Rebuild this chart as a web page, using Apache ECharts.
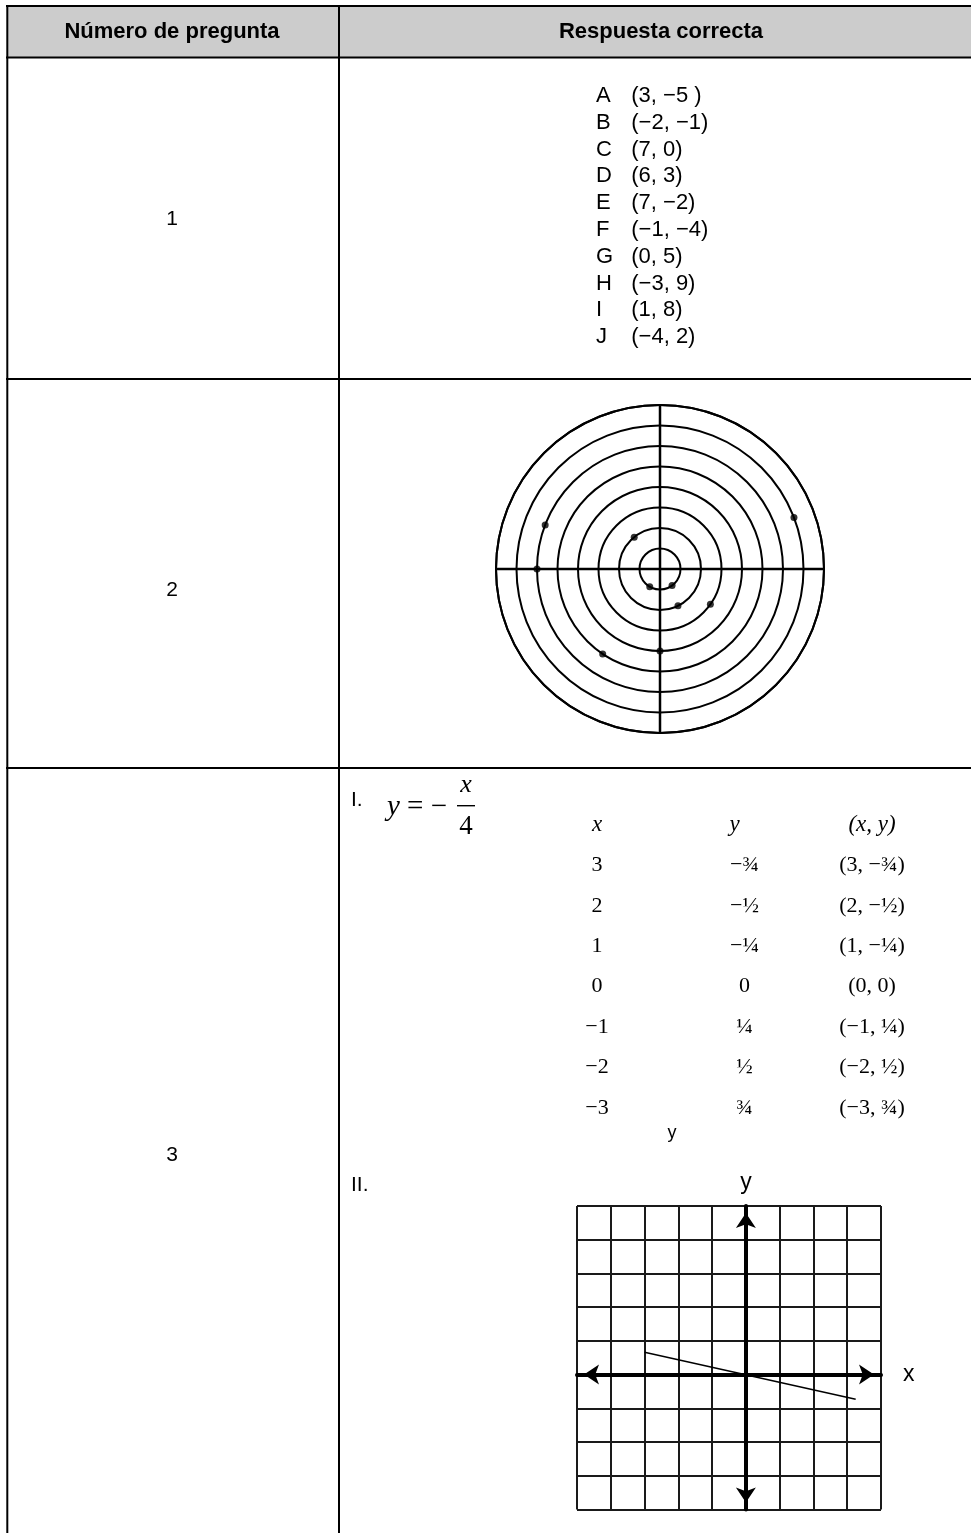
<!DOCTYPE html>
<html>
<head>
<meta charset="utf-8">
<script src="https://cdn.jsdelivr.net/npm/echarts@6/dist/echarts.min.js"></script>
<style>
html, body { margin: 0; padding: 0; background: #fff; }
#chart { width: 971px; height: 1533px; }
</style>
</head>
<body>
<div id="chart"></div>
<script>
// encabezados y número de cada pregunta
const encabezados = ['Número de pregunta', 'Respuesta correcta']
const numerosPregunta = ['1', '2', '3']

// pregunta 1: letras y pares ordenados
const letras = ['A', 'B', 'C', 'D', 'E', 'F', 'G', 'H', 'I', 'J']
const pares = ['(3, −5 )', '(−2, −1)', '(7, 0)', '(6, 3)', '(7, −2)', '(−1, −4)', '(0, 5)', '(−3, 9)', '(1, 8)', '(−4, 2)']

// pregunta 2: puntos sobre los círculos [radio, ángulo en grados]
const radios = [7, 6, 6, 2, 1, 1, 2, 3, 5, 4]
const angulos = [21, 159, 180, 129, 240, 306, 296, 325, 236, 270]

// pregunta 3: tabla de valores de y = -x/4
const columnasTabla = ['x', 'y', '(x, y)']
const valoresX = ['3', '2', '1', '0', '−1', '−2', '−3']
const valoresY = ['−¾', '−½', '−¼', '0', '¼', '½', '¾']
const valoresPar = ['(3, −¾)', '(2, −½)', '(1, −¼)', '(0, 0)', '(−1, ¼)', '(−2, ½)', '(−3, ¾)']

// pregunta 3: recta dibujada en la cuadrícula
const rectaX = [-3, 3.25]
const rectaY = [0.66, -0.73]

const SANS = 'Liberation Sans, Arial, sans-serif'
const SERIF = 'Liberation Serif, Times New Roman, serif'

const chart = echarts.init(document.getElementById('chart'))

const txt = (text, x, y, font, align = 'center', extra = {}) => ({
  type: 'text',
  x, y,
  style: Object.assign({
    text, font, fill: '#000',
    align, textAlign: align,
    verticalAlign: 'middle', textVerticalAlign: 'middle'
  }, extra)
})

const linea = (x1, y1, x2, y2, w = 2) => ({
  type: 'line',
  shape: { x1, y1, x2, y2 },
  style: { stroke: '#000', lineWidth: w }
})

// filas de la tabla de valores
const filas = valoresX.map((_, i) => String(i))

// puntos invisibles que solo llevan el texto
const soloTexto = { symbolSize: 0.5, itemStyle: { color: '#fff', opacity: 1 } }

const labelCelda = (extra = {}) => Object.assign({
  show: true,
  position: 'inside',
  color: '#000',
  opacity: 1,
  fontFamily: SERIF,
  fontSize: 22,
  formatter: p => p.data.texto
}, extra)

const option = {
  animation: false,
  backgroundColor: '#fff',
  graphic: [
    // fondo del encabezado
    { type: 'rect', shape: { x: 7, y: 6, width: 964, height: 51 }, style: { fill: '#cccccc' } },
    linea(6, 6, 971, 6),
    linea(6, 57.5, 971, 57.5),
    linea(6, 379, 971, 379),
    linea(6, 768, 971, 768),
    linea(7.3, 5, 7.3, 1533),
    linea(339, 5, 339, 1533),
    txt(encabezados[0], 172, 32, 'bold 22px ' + SANS),
    txt(encabezados[1], 661, 32, 'bold 22px ' + SANS),
    txt(numerosPregunta[0], 172, 219, '21px ' + SANS),
    txt(numerosPregunta[1], 172, 590, '21px ' + SANS),
    txt(numerosPregunta[2], 172, 1155, '21px ' + SANS),
    // ecuación y = -x/4
    txt('I.', 351, 800, '21px ' + SANS, 'left'),
    {
      type: 'text', x: 387, y: 807,
      style: {
        text: '{i|y} = −', font: '29px ' + SERIF, fill: '#000',
        align: 'left', textAlign: 'left', verticalAlign: 'middle', textVerticalAlign: 'middle',
        rich: { i: { fontStyle: 'italic', fontFamily: SERIF, fontSize: 29 } }
      }
    },
    txt('x', 466, 785, 'italic 26px ' + SERIF),
    { type: 'rect', shape: { x: 457, y: 805, width: 18, height: 1.4 }, style: { fill: '#000' } },
    txt('4', 466, 827, '27px ' + SERIF),
    txt('y', 672, 1133, '18px ' + SANS),
    txt('II.', 351, 1185, '21px ' + SANS, 'left')
  ],
  grid: [
    // lista de pares
    { left: 631, top: 82.6, width: 100, height: 267.8 },
    // tabla de valores
    { left: 528.25, top: 804.8, width: 412.5, height: 323.4 },
    // cuadrícula de la gráfica
    { left: 577, top: 1206, width: 304, height: 303.5 }
  ],
  xAxis: [
    { gridIndex: 0, type: 'value', min: 0, max: 1, show: false },
    { gridIndex: 1, type: 'category', data: columnasTabla, show: false },
    {
      gridIndex: 2, type: 'value', min: -5, max: 4, interval: 1,
      name: 'x', nameLocation: 'end', nameGap: 22,
      nameTextStyle: { fontFamily: SANS, fontSize: 23, color: '#000' },
      axisLine: {
        onZero: true, symbol: ['arrow', 'arrow'], symbolSize: [15, 15], symbolOffset: [7, -7],
        lineStyle: { color: '#000', width: 4 }
      },
      axisTick: { show: false },
      axisLabel: { show: false },
      splitLine: { show: true, lineStyle: { color: '#1a1a1a', width: 2 } }
    }
  ],
  yAxis: [
    {
      gridIndex: 0, type: 'category', data: letras, inverse: true,
      axisLine: { show: false }, axisTick: { show: false },
      axisLabel: { interval: 0, align: 'left', margin: 35, fontFamily: SANS, fontSize: 22, color: '#000' }
    },
    { gridIndex: 1, type: 'category', data: ['h'].concat(filas), inverse: true, show: false },
    {
      gridIndex: 2, type: 'value', min: -4, max: 5, interval: 1,
      name: 'y', nameLocation: 'end', nameGap: 12,
      nameTextStyle: { fontFamily: SANS, fontSize: 23, color: '#000' },
      axisLine: {
        onZero: true, symbol: ['arrow', 'arrow'], symbolSize: [15, 15], symbolOffset: [7, -7],
        lineStyle: { color: '#000', width: 4 }
      },
      axisTick: { show: false },
      axisLabel: { show: false },
      splitLine: { show: true, lineStyle: { color: '#1a1a1a', width: 2 } }
    }
  ],
  polar: { center: [660, 569], radius: 164 },
  angleAxis: {
    type: 'value', min: 0, max: 360, interval: 90, startAngle: 0, clockwise: false,
    axisLine: { lineStyle: { color: '#000', width: 2 } },
    axisTick: { show: false },
    axisLabel: { show: false },
    splitLine: { show: true, lineStyle: { color: '#000', width: 2.5 } }
  },
  radiusAxis: {
    type: 'value', min: 0, max: 8, interval: 1,
    axisLine: { show: false },
    axisTick: { show: false },
    axisLabel: { show: false },
    splitLine: { show: true, lineStyle: { color: '#000', width: 2 } }
  },
  series: [
    Object.assign({
      type: 'scatter', xAxisIndex: 0, yAxisIndex: 0,
      data: pares.map((p, i) => ({ value: [0, i], texto: p })),
      label: {
        show: true, position: 'right', distance: 0, color: '#000', opacity: 1,
        fontFamily: SANS, fontSize: 22, formatter: p => p.data.texto
      }
    }, soloTexto),
    // encabezado de la tabla de valores
    Object.assign({
      type: 'scatter', xAxisIndex: 1, yAxisIndex: 1,
      data: columnasTabla.map((c, j) => ({ value: [j, 0], texto: c })),
      label: labelCelda({ fontStyle: 'italic', fontSize: 23 })
    }, soloTexto),
    Object.assign({
      type: 'scatter', xAxisIndex: 1, yAxisIndex: 1,
      data: valoresX.map((v, i) => ({ value: [0, i + 1], texto: v })),
      label: labelCelda()
    }, soloTexto),
    Object.assign({
      type: 'scatter', xAxisIndex: 1, yAxisIndex: 1,
      data: valoresY.map((v, i) => ({ value: [1, i + 1], texto: v })),
      label: labelCelda({ offset: [10, 0] })
    }, soloTexto),
    Object.assign({
      type: 'scatter', xAxisIndex: 1, yAxisIndex: 1,
      data: valoresPar.map((v, i) => ({ value: [2, i + 1], texto: v })),
      label: labelCelda()
    }, soloTexto),
    // puntos de la pregunta 2
    {
      type: 'scatter', coordinateSystem: 'polar',
      symbolSize: 7, itemStyle: { color: '#000' },
      data: radios.map((r, i) => [r, angulos[i]])
    },
    // recta de la pregunta 3
    {
      type: 'line', xAxisIndex: 2, yAxisIndex: 2,
      symbol: 'none',
      lineStyle: { color: '#000', width: 1.5 },
      data: rectaX.map((x, i) => [x, rectaY[i]])
    }
  ]
}

chart.setOption(option)
</script>
</body>
</html>
